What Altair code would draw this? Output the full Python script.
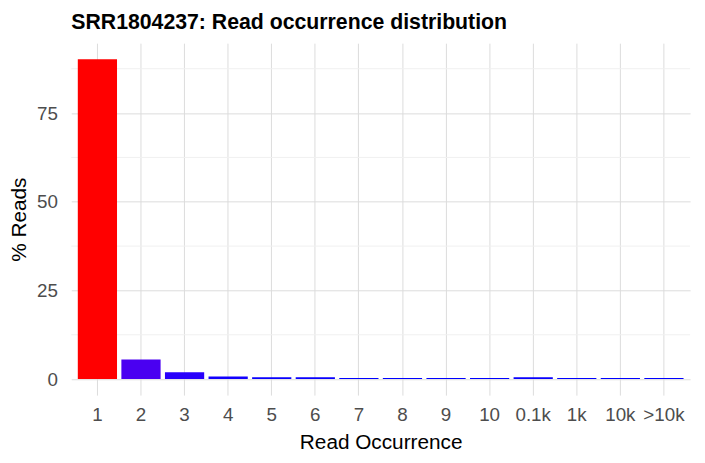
import altair as alt
import pandas as pd

categories = ["1", "2", "3", "4", "5", "6", "7", "8", "9", "10", "0.1k", "1k", "10k", ">10k"]
pct_reads = [90.2, 5.5, 1.9, 0.75, 0.5, 0.5, 0.3, 0.3, 0.3, 0.3, 0.5, 0.3, 0.3, 0.3]
y_ticks = [0, 25, 50, 75]
minor_ticks = [12.5, 37.5, 62.5, 87.5]

df = pd.DataFrame({"occ": categories, "pct": pct_reads})
ymax = max(pct_reads)
expand = 0.05 * ymax
yscale = alt.Scale(domain=[-expand, ymax + expand], nice=False, zero=False)

FONT = "Liberation Sans"

yaxis = alt.Axis(
    title="% Reads",
    values=y_ticks,
    grid=True,
    ticks=False,
    domain=False,
    gridColor="#DCDCDC",
    labelColor="#4D4D4D",
    labelFontSize=19,
    labelPadding=14,
    labelFont=FONT,
    titleFont=FONT,
    titleFontSize=21,
    titleFontWeight="normal",
    titleColor="#000000",
    titlePadding=7,
)

minor = alt.Chart(pd.DataFrame({"pct": minor_ticks})).mark_rule(
    color="#F0F0F0", strokeWidth=1
).encode(y=alt.Y("pct:Q", scale=yscale, axis=yaxis))

bars = alt.Chart(df).mark_bar().encode(
    x=alt.X(
        "occ:N",
        sort=categories,
        scale=alt.Scale(paddingInner=0.1, paddingOuter=0.15),
        axis=alt.Axis(
            title="Read Occurrence",
            labelAngle=0,
            grid=True,
            bandPosition=0.5,
            ticks=False,
            domain=False,
            gridColor="#DCDCDC",
            labelColor="#4D4D4D",
            labelFontSize=19,
            labelPadding=11,
            labelFont=FONT,
            titleFont=FONT,
            titleFontSize=21,
            titleFontWeight="normal",
            titleColor="#000000",
            titlePadding=7,
        ),
    ),
    y=alt.Y("pct:Q", scale=yscale, axis=yaxis),
    y2=alt.datum(0),
    color=alt.Color(
        "pct:Q",
        scale=alt.Scale(range=["#0000FF", "#FF0000"], interpolate="lab", zero=False),
        legend=None,
    ),
)

chart = alt.layer(minor, bars).properties(
    width=626,
    height=356,
    autosize=alt.AutoSizeParams(type="none"),
    padding={"left": 64, "top": 33, "right": 7, "bottom": 58},
    title=alt.TitleParams(
        "SRR1804237: Read occurrence distribution",
        anchor="start",
        frame="group",
        font=FONT,
        fontSize=21.5,
        fontWeight="bold",
        color="#000000",
        offset=10,
    ),
).configure_view(stroke=None)

chart.save("out.html", embed_options={"renderer": "svg", "actions": False})
